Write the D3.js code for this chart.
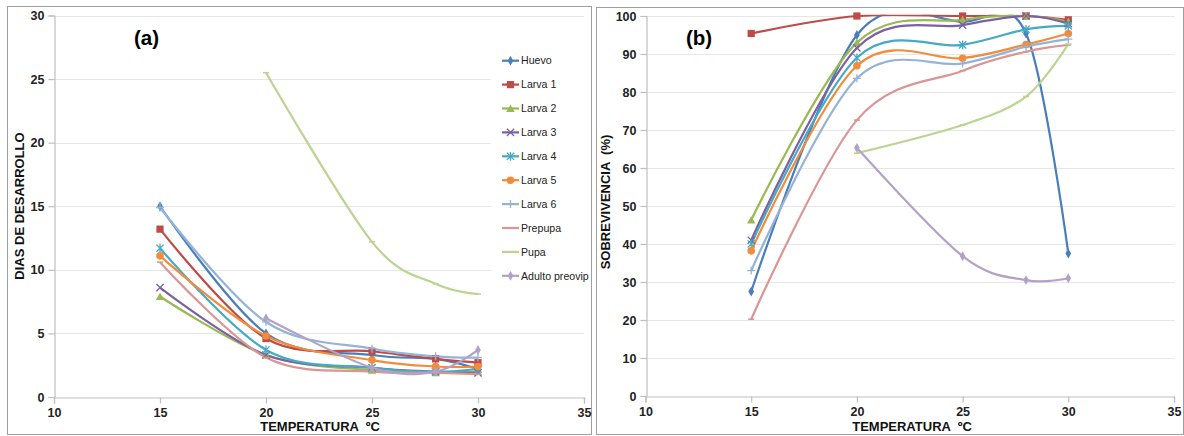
<!DOCTYPE html>
<html><head><meta charset="utf-8">
<script src="https://cdn.jsdelivr.net/npm/d3@7/dist/d3.min.js"></script>
<style>
html,body{margin:0;padding:0;background:#fff;}
svg{display:block;font-family:"Liberation Sans",Arial,sans-serif;}
</style></head>
<body><svg id="c" width="1184" height="436"></svg>
<script>
// ---- data ----
const temps = [15, 20, 25, 28, 30];
const seriesNames = ["Huevo","Larva 1","Larva 2","Larva 3","Larva 4","Larva 5","Larva 6","Prepupa","Pupa","Adulto preovip"];
const xTicks = [10, 15, 20, 25, 30, 35];
const yTicksA = [0, 5, 10, 15, 20, 25, 30];
const yTicksB = [0, 10, 20, 30, 40, 50, 60, 70, 80, 90, 100];

// (a) días de desarrollo
const diasHuevo   = [15.0, 5.0, 3.3, 3.0, 2.2];
const diasLarva1  = [13.2, 4.6, 3.6, 3.0, 2.7];
const diasLarva2  = [7.9, 3.3, 2.1, 1.9, 2.0];
const diasLarva3  = [8.6, 3.3, 2.3, 2.0, 1.9];
const diasLarva4  = [11.7, 3.7, 2.3, 2.0, 2.2];
const diasLarva5  = [11.1, 4.8, 2.9, 2.4, 2.4];
const diasLarva6  = [14.9, 5.9, 3.8, 3.2, 3.1];
const diasPrepupa = [10.6, 3.1, 2.0, 1.9, 1.8];
const diasPupa    = [null, 25.5, 12.2, 8.9, 8.1];
const diasAdulto  = [null, 6.2, 2.3, 2.0, 3.7];

// (b) sobrevivencia (%)
const sobHuevo   = [27.5, 95.0, 98.5, 95.4, 37.5];
const sobLarva1  = [95.4, 100, 100, 100, 99.0];
const sobLarva2  = [46.3, 93.0, 99.0, 100, 98.5];
const sobLarva3  = [41.0, 91.6, 97.6, 100, 98.0];
const sobLarva4  = [40.0, 89.0, 92.4, 96.5, 97.4];
const sobLarva5  = [38.2, 86.9, 88.9, 92.5, 95.4];
const sobLarva6  = [33.0, 83.6, 87.5, 91.9, 93.9];
const sobPrepupa = [20.2, 72.6, 85.6, 90.6, 92.4];
const sobPupa    = [null, 63.9, 71.3, 78.8, 92.6];
const sobAdulto  = [null, 65.3, 36.8, 30.5, 31.0];

const diasData = [diasHuevo, diasLarva1, diasLarva2, diasLarva3, diasLarva4, diasLarva5, diasLarva6, diasPrepupa, diasPupa, diasAdulto];
const sobData  = [sobHuevo, sobLarva1, sobLarva2, sobLarva3, sobLarva4, sobLarva5, sobLarva6, sobPrepupa, sobPupa, sobAdulto];

// ---- styles ----
const colors  = ["#4A7EBB","#BE4B48","#98B954","#7D60A0","#46AAC5","#F08C3C","#95B3D7","#D99694","#BCD492","#B3A2C7"];
const markers = ["diamond","square","triangle","x","star","circle","plus","dash","dash","diamond"];

const svg = d3.select("#c");
const defs = svg.append("defs");

function drawMarker(g, type, x, y, color) {
  const s = 3.6;
  if (type === "diamond") {
    g.append("path").attr("d", d3.symbol(d3.symbolDiamond, 28)()).attr("transform", `translate(${x},${y})`).attr("fill", color);
  } else if (type === "square") {
    g.append("rect").attr("x", x-3.6).attr("y", y-3.6).attr("width", 7.2).attr("height", 7.2).attr("fill", color);
  } else if (type === "triangle") {
    g.append("path").attr("d", `M${x},${y-4}L${x+4.2},${y+3.4}L${x-4.2},${y+3.4}Z`).attr("fill", color);
  } else if (type === "circle") {
    g.append("circle").attr("cx", x).attr("cy", y).attr("r", 3.8).attr("fill", color);
  } else if (type === "x") {
    g.append("path").attr("d", `M${x-s},${y-s}L${x+s},${y+s}M${x-s},${y+s}L${x+s},${y-s}`).attr("stroke", color).attr("stroke-width", 1.3).attr("fill", "none");
  } else if (type === "star") {
    g.append("path").attr("d", `M${x-s},${y-s}L${x+s},${y+s}M${x-s},${y+s}L${x+s},${y-s}M${x},${y-s-0.8}L${x},${y+s+0.8}`).attr("stroke", color).attr("stroke-width", 1.3).attr("fill", "none");
  } else if (type === "plus") {
    g.append("path").attr("d", `M${x-4},${y}L${x+4},${y}M${x},${y-4}L${x},${y+4}`).attr("stroke", color).attr("stroke-width", 1.3).attr("fill", "none");
  } else if (type === "dash") {
    g.append("path").attr("d", `M${x-3},${y}L${x+3},${y}`).attr("stroke", color).attr("stroke-width", 1.6).attr("fill", "none");
  }
}

function panel(opts) {
  const {id, x, y, xTicks, yTicks, data, frame, gridRight, label, labelPos, yTitle, yTitlePos, xTitlePos, legendBox} = opts;
  // frame
  svg.append("rect").attr("x", frame[0]+0.5).attr("y", frame[1]+0.5).attr("width", frame[2]-frame[0]).attr("height", frame[3]-frame[1])
    .attr("fill", "#fff").attr("stroke", "#a0a0a0").attr("stroke-width", 1);
  const g = svg.append("g");
  // clip for plot area lines
  defs.append("clipPath").attr("id", id).append("rect")
    .attr("x", x.range()[0]).attr("y", y.range()[1] - 1.2)
    .attr("width", x.range()[1] - x.range()[0]).attr("height", y.range()[0] - y.range()[1] + 1.2);
  // gridlines
  g.selectAll("line.grid").data(yTicks.filter(d => d > 0)).join("line")
    .attr("x1", x.range()[0]).attr("x2", gridRight)
    .attr("y1", d => Math.round(y(d)) + 0.5).attr("y2", d => Math.round(y(d)) + 0.5)
    .attr("stroke", "#e6e6e6").attr("stroke-width", 1);
  if (legendBox) {
    g.append("rect").attr("x", legendBox[0]).attr("y", legendBox[1]).attr("width", legendBox[2]).attr("height", legendBox[3]).attr("fill", "#fff");
  }
  // axes
  const yAxis = d3.axisLeft(y).tickValues(yTicks).tickSize(6).tickPadding(4).tickFormat(d3.format("d"));
  const xAxis = d3.axisBottom(x).tickValues(xTicks).tickSize(6).tickPadding(5).tickFormat(d3.format("d"));
  const ya = g.append("g").attr("transform", `translate(${Math.round(x.range()[0])+0.5},0)`).call(yAxis);
  const xa = g.append("g").attr("transform", `translate(0,${Math.round(y.range()[0])+0.5})`).call(xAxis);
  [ya, xa].forEach(a => {
    a.select(".domain").attr("stroke", "#bfbfbf").attr("stroke-width", 1.2);
    a.selectAll(".tick line").attr("stroke", "#bfbfbf").attr("stroke-width", 1.2);
    a.selectAll(".tick text").attr("fill", "#222").attr("font-size", 12.5).attr("font-weight", "bold")
      .attr("font-family", "'Liberation Sans', Arial, sans-serif");
  });
  // series
  const line = d3.line().x(d => x(d[0])).y(d => y(d[1])).curve(d3.curveCatmullRom.alpha(0));
  const lg = g.append("g").attr("clip-path", `url(#${id})`);
  data.forEach((vals, i) => {
    const pts = temps.map((t, j) => [t, vals[j]]).filter(p => p[1] != null);
    lg.append("path").attr("d", line(pts)).attr("fill", "none").attr("stroke", colors[i]).attr("stroke-width", 2.2).attr("stroke-linejoin", "round");
  });
  data.forEach((vals, i) => {
    const mg = g.append("g");
    temps.forEach((t, j) => { if (vals[j] != null) drawMarker(mg, markers[i], x(t), y(vals[j]), colors[i]); });
  });
  // labels
  g.append("text").attr("x", labelPos[0]).attr("y", labelPos[1]).attr("font-size", 20.5).attr("font-weight", "bold").attr("fill", "#000").text(label);
  g.append("text").attr("transform", `translate(${yTitlePos[0]},${yTitlePos[1]}) rotate(-90)`).attr("text-anchor", "middle")
    .attr("font-size", 13).attr("font-weight", "bold").attr("fill", "#111").attr("xml:space", "preserve").text(yTitle);
  g.append("text").attr("x", xTitlePos[0]).attr("y", xTitlePos[1]).attr("text-anchor", "middle")
    .attr("font-size", 13).attr("font-weight", "bold").attr("fill", "#111").attr("xml:space", "preserve").text("TEMPERATURA  ºC");
  return g;
}

const xA = d3.scaleLinear().domain([10, 35]).range([54, 584]);
const yA = d3.scaleLinear().domain([0, 30]).range([397, 15.5]);
const gA = panel({id: "clipA", x: xA, y: yA, xTicks, yTicks: yTicksA, data: diasData, frame: [7, 6, 591, 434], gridRight: 584,
  label: "(a)", labelPos: [134, 45], yTitle: "DIAS DE DESARROLLO", yTitlePos: [24, 206], xTitlePos: [320, 431],
  legendBox: [491, 46, 93, 246]});

// legend
seriesNames.forEach((name, i) => {
  const ly = 60.7 + i * 23.9;
  gA.append("line").attr("x1", 502).attr("x2", 519).attr("y1", ly).attr("y2", ly).attr("stroke", colors[i]).attr("stroke-width", 2.2);
  drawMarker(gA, markers[i], 510.5, ly, colors[i]);
  gA.append("text").attr("x", 521).attr("y", ly + 3.7).attr("font-size", 10.6).attr("fill", "#222").text(name);
});

const xB = d3.scaleLinear().domain([10, 35]).range([645.5, 1174]);
const yB = d3.scaleLinear().domain([0, 100]).range([396, 16]);
panel({id: "clipB", x: xB, y: yB, xTicks, yTicks: yTicksB, data: sobData, frame: [596, 7, 1183, 434], gridRight: 1175,
  label: "(b)", labelPos: [686, 45], yTitle: "SOBREVIVENCIA  (%)", yTitlePos: [610, 202], xTitlePos: [912, 431]});
</script>
</body></html>
